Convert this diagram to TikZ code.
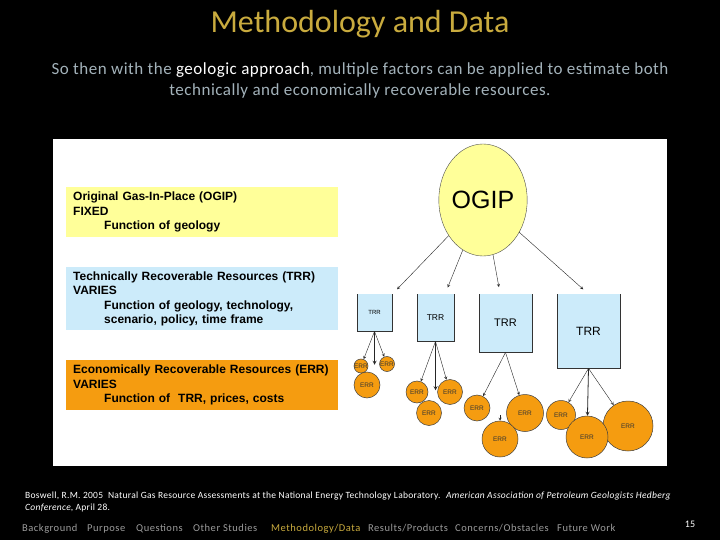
\documentclass[tikz,border=0pt]{standalone}
\usepackage{fontspec}
\setmainfont{Carlito}
\newfontfamily\arialfont{Liberation Sans}
\usetikzlibrary{shapes.geometric,calc}
\definecolor{titlegold}{HTML}{C9AB3E}
\definecolor{subgray}{HTML}{A3B2BA}
\definecolor{navgray}{HTML}{9C9C9C}
\definecolor{paleyellow}{HTML}{FFFF99}
\definecolor{paleblue}{HTML}{CCEBFA}
\definecolor{errorange}{HTML}{F59C10}
\begin{document}
\begin{tikzpicture}[x=1pt, y=-1pt, >=stealth,
    every node/.style={inner sep=0pt},
    infobox/.style={anchor=north west, minimum width=272pt, text width=258pt, inner xsep=7pt, align=left,
        font=\arialfont\bfseries\fontsize{12}{14.5}\selectfont},
    trrbox/.style={fill=paleblue, anchor=north},
    errball/.style={circle, fill=errorange, draw=black!75, line width=0.5pt,
        label={[font=\arialfont\fontsize{6.5}{7}\selectfont, text=black!80]center:ERR}},
    link/.style={->, line width=0.4pt, draw=black!85},
    navitem/.style={anchor=base west, text=navgray, font=\fontsize{10.5}{12}\selectfont\addfontfeature{LetterSpace=5}}]
    % slide background and white panel
    \fill[black] (0,0) rectangle (720,540);
    \fill[white] (53,139) rectangle (667,466);
    \node[text=titlegold, font=\fontsize{32}{38}\selectfont] (title) at (360,24) {Methodology and Data};
    \node[text=subgray, align=center, font=\fontsize{17}{21}\selectfont\addfontfeature{LetterSpace=3}] (lead) at (360,80)
        {So then with the \textcolor{white}{geologic approach}, multiple factors can be applied to estimate both\\
         technically and economically recoverable resources.};
    % definitions on the left
    \node[infobox, fill=paleyellow, minimum height=50pt] (ogipnote) at (66,187)
        {Original Gas-In-Place (OGIP)\\FIXED\\\hspace*{31pt}Function of geology};
    \node[infobox, fill=paleblue, minimum height=63pt] (trrnote) at (66,267)
        {Technically Recoverable Resources (TRR)\\VARIES\\\hspace*{31pt}Function of geology, technology,\\\hspace*{31pt}scenario, policy, time frame};
    \node[infobox, fill=errorange, minimum height=50pt] (errnote) at (66,360)
        {Economically Recoverable Resources (ERR)\\VARIES\\\hspace*{31pt}Function of \ TRR, prices, costs};
    % tree
    \node[ellipse, draw=black!70, fill=paleyellow, minimum width=82pt, minimum height=112pt,
        font=\arialfont\fontsize{25}{30}\selectfont] (ogip) at (483,200) {OGIP};
    \node[trrbox, minimum width=35pt, minimum height=37pt, font=\arialfont\fontsize{6}{7}\selectfont] (trrA) at (374.5,294) {TRR};
    \node[trrbox, minimum width=37pt, minimum height=47pt, font=\arialfont\fontsize{8.5}{10}\selectfont] (trrB) at (435.5,294) {TRR};
    \node[trrbox, minimum width=53pt, minimum height=58pt, font=\arialfont\fontsize{11}{13}\selectfont] (trrC) at (505.5,294) {TRR};
    \node[trrbox, minimum width=63pt, minimum height=74pt, font=\arialfont\fontsize{12}{14}\selectfont] (trrD) at (588.5,294) {TRR};
    \foreach \b in {A,B,C,D}
        \draw[black!80, line width=0.5pt] (trr\b.north west) -- (trr\b.south west) -- (trr\b.south east) -- (trr\b.north east);
    \node[errball, minimum size=14pt] (eA1) at (361,366) {};
    \node[errball, minimum size=15pt] (eA2) at (387,364) {};
    \node[errball, minimum size=26pt] (eA3) at (367,385) {};
    \node[errball, minimum size=22pt] (eB1) at (417,392) {};
    \node[errball, minimum size=25pt] (eB2) at (450,392) {};
    \node[errball, minimum size=25pt] (eB3) at (429,413) {};
    \node[errball, minimum size=26pt] (eC1) at (477,408) {};
    \node[errball, minimum size=37pt] (eC2) at (525,413) {};
    \node[errball, minimum size=36pt] (eC3) at (500,439) {};
    \node[errball, minimum size=29pt] (eD1) at (561,415) {};
    \node[errball, minimum size=50pt] (eD3) at (628,426) {};
    \node[errball, minimum size=42pt] (eD2) at (587,437) {};
    \draw[link, shorten >=7pt] (ogip) -- (trrA);
    \draw[link, shorten >=7pt] (ogip) -- (trrB);
    \draw[link, shorten >=7pt] (ogip) -- (trrC);
    \draw[link, shorten >=7pt] (ogip) -- (trrD.north);
    \draw[link] (trrA.south) -- (eA1);
    \draw[link] (trrA.south) -- (eA2);
    \draw[link, line width=0.8pt, shorten >=7pt] (trrA.south) -- (trrA.south |- eA3.north);
    \draw[link] (trrB.south) -- (eB1);
    \draw[link] (trrB.south) -- (eB2);
    \draw[link, line width=0.8pt, shorten >=10pt] (trrB.south) -- (trrB.south |- eB3.north);
    \draw[link] (trrC.south) -- (eC1);
    \draw[link] (trrC.south) -- (eC2);
    \coordinate (stubC) at ($(eC3.north)+(0,-6)$);
    \draw[link] (stubC) -- (eC3.north);
    \draw[link] (trrD.south) -- (eD1);
    \draw[link, line width=0.8pt] (trrD.south) -- (eD2);
    \draw[link] (trrD.south) -- (eD3);
    % reference and navigation
    \node[anchor=base west, text=white, font=\fontsize{9.5}{11}\selectfont\addfontfeature{LetterSpace=3}] (cite) at (25,498)
        {Boswell, R.M. 2005 \ Natural Gas Resource Assessments at the National Energy Technology Laboratory. \ \textit{American Association of Petroleum Geologists Hedberg}};
    \node[anchor=base west, text=white, font=\fontsize{9.5}{11}\selectfont\addfontfeature{LetterSpace=3}] (cite2) at (25,510) {\textit{Conference}, April 28.};
    \node[navitem] (nav1) at (22,531) {Background};
    \node[navitem] (nav2) at (87,531) {Purpose};
    \node[navitem] (nav3) at (136,531) {Questions};
    \node[navitem] (nav4) at (193,531) {Other Studies};
    \node[navitem, text=titlegold] (nav5) at (271,531) {Methodology/Data};
    \node[navitem] (nav6) at (368,531) {Results/Products};
    \node[navitem] (nav7) at (455,531) {Concerns/Obstacles};
    \node[navitem] (nav8) at (557,531) {Future Work};
    \node[text=white, font=\fontsize{10}{12}\selectfont] (pagenum) at (690,524) {15};
\end{tikzpicture}
\end{document}
